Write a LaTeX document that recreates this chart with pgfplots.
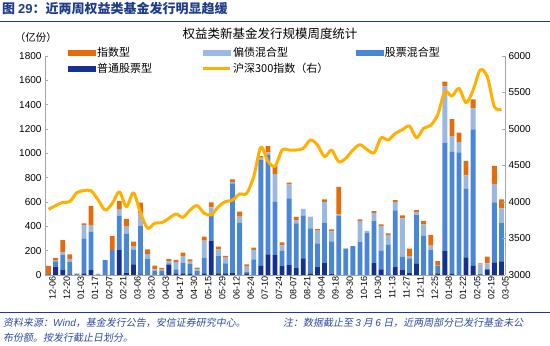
\documentclass[border=0pt]{standalone}
\usepackage{fontspec}
\setmainfont{Liberation Sans}
\newfontfamily\cjk{Noto Sans CJK SC}
\newfontfamily\cjkit{Noto Sans CJK SC}[FakeSlant=0.18]
\usepackage{pgfplots}
\usepackage{pgfplotstable}
\pgfplotsset{compat=1.18}
\definecolor{cIdx}{HTML}{E46C0A}
\definecolor{cBond}{HTML}{9BB8E0}
\definecolor{cMix}{HTML}{4A86D6}
\definecolor{cStock}{HTML}{14318F}
\definecolor{cLine}{HTML}{FFB000}
\definecolor{cHead}{HTML}{1F3C8A}
\definecolor{cFoot}{HTML}{2B4B9B}
\definecolor{cAxis}{HTML}{A6A6A6}
\pgfplotstableread{
i navy blue light orange hs
0 3 7 0 65 3900
1 68 45 5 22 3950
2 41 123 27 96 3995
3 5 100 27 38 4005
4 0 12 0 0 4128
5 14 282 115 14 4155
6 41 315 49 164 4155
7 0 5 7 0 4030
8 0 122 0 0 3890
9 0 205 0 115 3980
10 205 282 55 68 4140
11 20 318 60 63 3936
12 88 118 27 41 4125
13 5 400 101 88 3850
14 0 131 41 38 3640
15 0 33 14 30 3710
16 5 28 11 14 3717
17 85 10 20 16 3776
18 14 33 58 19 3836
19 14 88 55 27 3790
20 8 82 19 19 3890
21 0 36 11 14 3950
22 14 129 140 33 3845
23 282 219 55 41 3822
24 14 142 55 22 3936
25 14 82 47 14 4005
26 19 734 11 22 4027
27 0 430 49 41 4110
28 14 14 41 19 4118
29 0 129 77 19 4350
30 74 871 19 14 4750
31 170 816 22 52 4560
32 164 438 227 66 4490
33 77 123 44 25 4712
34 82 548 115 14 4712
35 60 364 27 27 4712
36 137 348 58 0 4735
37 14 370 96 0 4850
38 68 192 104 14 4780
39 101 329 170 22 4621
40 12 265 82 16 4712
41 0 485 14 225 4552
42 0 215 4 0 4598
43 0 238 0 0 4712
44 0 274 170 14 4785
45 0 348 14 0 4720
46 101 342 68 14 4675
47 47 151 205 14 4880
48 5 242 80 16 4849
49 68 463 68 16 4940
50 41 107 318 25 4990
51 19 118 19 60 5040
52 96 397 25 16 4880
53 0 321 96 27 5010
54 5 200 36 88 5050
55 14 60 8 33 5200
56 200 888 466 36 5510
57 10 1001 131 140 5450
58 0 1008 85 77 5557
59 145 562 112 120 5360
60 74 1123 173 74 5534
61 5 0 83 8 5808
62 47 0 49 55 5717
63 104 493 151 148 5306
64 112 315 121 74 5270
}\data
\begin{document}
\begin{tikzpicture}[x=1pt,y=1pt]
% header
\node[anchor=west, text=cHead, font=\cjk\bfseries\fontsize{13}{15}\selectfont, inner sep=0pt] at (2,337.5) {图 {\rmfamily\bfseries 29}：近两周权益类基金发行明显趋缓};
\draw[cHead, line width=1.3pt] (0,324.3) -- (550,324.3);
% title
\node[font=\cjk\fontsize{12.5}{14}\selectfont, inner sep=0pt] at (270,312.5) {权益类新基金发行规模周度统计};
\node[font=\cjk\fontsize{10.5}{12}\selectfont, inner sep=0pt] at (36,308) {（亿份）};

\begin{axis}[
  at={(45pt,71pt)}, anchor=south west, scale only axis,
  width=460pt, height=219pt,
  xmin=-0.5, xmax=64.5, ymin=0, ymax=1800,
  ybar stacked, bar width=0.68,
  axis x line*=bottom, axis y line*=left,
  axis line style={draw=cAxis, line width=0.8pt},
  ytick={0,200,...,1800},
  xtick={0,2,...,64},
  xticklabels={12-06,12-20,01-03,01-17,02-07,02-21,03-06,03-20,04-03,04-17,04-30,05-15,05-29,06-12,06-24,07-10,07-24,08-07,08-21,09-04,09-18,09-30,10-16,10-30,11-13,11-27,12-11,12-25,01-08,01-22,02-05,02-19,03-05},
  xtick style={draw=none},
  ytick style={draw=cAxis, line width=0.8pt},
  major tick length=3pt, tick align=inside,
  yticklabel style={font=\fontsize{10}{12}\selectfont},
  xticklabel style={rotate=90, anchor=east, font=\fontsize{9}{10}\selectfont, inner sep=1pt, yshift=-4pt},
  /pgf/number format/assume math mode=true,
  /pgf/number format/1000 sep={},
]
\addplot[fill=cStock, draw=none] table[x=i,y=navy]{\data};
\addplot[fill=cMix, draw=none] table[x=i,y=blue]{\data};
\addplot[fill=cBond, draw=none] table[x=i,y=light]{\data};
\addplot[fill=cIdx, draw=none] table[x=i,y=orange]{\data};
\end{axis}

\begin{axis}[
  at={(45pt,71pt)}, anchor=south west, scale only axis,
  width=460pt, height=219pt,
  xmin=-0.5, xmax=64.5, ymin=3000, ymax=6000,
  axis y line*=right, axis x line=none,
  axis line style={draw=cAxis, line width=0.8pt},
  ytick={3000,3500,...,6000},
  ytick style={draw=cAxis, line width=0.8pt},
  major tick length=3pt, tick align=inside,
  yticklabel style={font=\fontsize{10}{12}\selectfont},
  /pgf/number format/assume math mode=true,
  /pgf/number format/1000 sep={},
  legend columns=3,
  legend cell align=left,
  legend style={at={(axis description cs:0.05,1.046)}, anchor=north west,
    draw=none, fill=none, inner sep=0pt,
    font=\cjk\fontsize{11}{12}\selectfont, row sep=2.3pt,
    nodes={inner sep=1.5pt, text height=8.5pt, text depth=2.2pt},
    /tikz/column 2/.style={column sep=48pt},
    /tikz/column 4/.style={column sep=26pt}},
]
\addlegendimage{legend image code/.code={\fill[cIdx] (0pt,-2.5pt) rectangle (27pt,2.5pt);}}
\addlegendentry{指数型}
\addlegendimage{legend image code/.code={\fill[cBond] (0pt,-2.5pt) rectangle (27pt,2.5pt);}}
\addlegendentry{偏债混合型}
\addlegendimage{legend image code/.code={\fill[cMix] (0pt,-2.5pt) rectangle (27pt,2.5pt);}}
\addlegendentry{股票混合型}
\addlegendimage{legend image code/.code={\fill[cStock] (0pt,-2.5pt) rectangle (27pt,2.5pt);}}
\addlegendentry{普通股票型}
\addplot[cLine, line width=3pt, smooth, tension=0.5, mark=none, line join=round,
  legend image code/.code={\draw[cLine, line width=3pt] (0pt,0pt) -- (27pt,0pt);}]
  table[x=i,y=hs]{\data};
\addlegendentry{沪深300指数（右）}
\end{axis}

% footer
\draw[cHead, line width=0.8pt] (0,34) -- (550,34);
\node[anchor=west, font=\cjkit\fontsize{10}{12}\selectfont, text=cFoot, inner sep=0pt] at (3,23.5) {资料来源：{\rmfamily\itshape Wind}，基金发行公告，安信证券研究中心。};
\node[anchor=west, font=\cjkit\fontsize{10}{12}\selectfont, text=cFoot, inner sep=0pt] at (283,23.5) {注：数据截止至 {\rmfamily\itshape 3} 月 {\rmfamily\itshape 6} 日，近两周部分已发行基金未公};
\node[anchor=west, font=\cjkit\fontsize{10}{12}\selectfont, text=cFoot, inner sep=0pt] at (3,8) {布份额。按发行截止日划分。};
\pgfresetboundingbox
\useasboundingbox (0,0) rectangle (550,346);
\end{tikzpicture}
\end{document}
